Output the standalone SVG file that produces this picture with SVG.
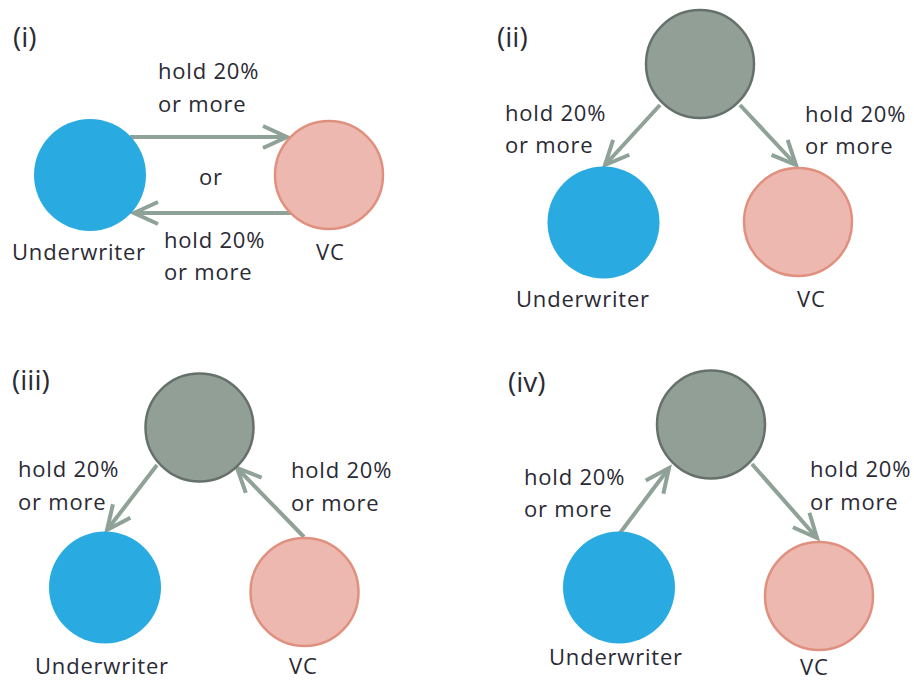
<svg xmlns="http://www.w3.org/2000/svg" width="914" height="680" viewBox="0 0 914 680">
<style>
.t{font-family:"Open Sans","Noto Sans",sans-serif;font-size:22px;fill:#2a2a35;letter-spacing:0.8px}
.p{font-family:"Open Sans","Noto Sans",sans-serif;font-size:28px;fill:#2a2a35}
.uw{fill:#29abe2}
.vc{fill:#edb8b0;stroke:#e0907f;stroke-width:2.5}
.gp{fill:#919f97;stroke:#66716b;stroke-width:2.5}
.c{stroke:#8fa297;stroke-width:4;fill:none;marker-end:url(#ah)}
</style>
<defs>
<marker id="ah" markerUnits="userSpaceOnUse" markerWidth="40" markerHeight="40" viewBox="-30 -20 40 40" refX="0" refY="0" orient="auto">
<path d="M-24,-11 L0,0 L-24,11" fill="none" stroke="#8fa297" stroke-width="4"/>
</marker>
</defs>
<g id="connectors">
<line class="c" x1="130" y1="137" x2="287" y2="137"/>
<line class="c" x1="291" y1="213" x2="134" y2="213"/>
<line class="c" x1="660" y1="105" x2="605" y2="165"/>
<line class="c" x1="740" y1="105" x2="796" y2="165"/>
<line class="c" x1="157" y1="465" x2="107" y2="530"/>
<line class="c" x1="304" y1="537" x2="237" y2="468"/>
<line class="c" x1="620" y1="533" x2="669" y2="468"/>
<line class="c" x1="752" y1="464" x2="817" y2="538"/>
</g>
<g id="panel-i">
<text class="p" x="13" y="47">(i)</text>
<g id="i-underwriter"><circle class="uw" cx="90" cy="175" r="56"/><text class="t" x="12" y="260">Underwriter</text></g>
<g id="i-vc"><circle class="vc" cx="329" cy="175" r="54"/><text class="t" x="316" y="260">VC</text></g>
<text class="t" x="158" y="79">hold 20%</text>
<text class="t" x="158" y="112">or more</text>
<text class="t" x="199" y="185">or</text>
<text class="t" x="164" y="248">hold 20%</text>
<text class="t" x="164" y="280">or more</text>
</g>
<g id="panel-ii">
<text class="p" x="497" y="47">(ii)</text>
<g id="ii-parent"><circle class="gp" cx="700" cy="64" r="54"/></g>
<g id="ii-underwriter"><circle class="uw" cx="603.5" cy="222.5" r="56"/><text class="t" x="516" y="307">Underwriter</text></g>
<g id="ii-vc"><circle class="vc" cx="798" cy="222" r="54"/><text class="t" x="797" y="307">VC</text></g>
<text class="t" x="505" y="121">hold 20%</text>
<text class="t" x="505" y="153">or more</text>
<text class="t" x="805" y="122">hold 20%</text>
<text class="t" x="805" y="154">or more</text>
</g>
<g id="panel-iii">
<text class="p" x="12" y="390">(iii)</text>
<g id="iii-parent"><circle class="gp" cx="199.5" cy="427.5" r="54"/></g>
<g id="iii-underwriter"><circle class="uw" cx="105" cy="587.5" r="56"/><text class="t" x="35" y="674">Underwriter</text></g>
<g id="iii-vc"><circle class="vc" cx="304.5" cy="592" r="54"/><text class="t" x="289" y="674">VC</text></g>
<text class="t" x="18" y="477">hold 20%</text>
<text class="t" x="18" y="510">or more</text>
<text class="t" x="291" y="478">hold 20%</text>
<text class="t" x="291" y="511">or more</text>
</g>
<g id="panel-iv">
<text class="p" x="508" y="392">(iv)</text>
<g id="iv-parent"><circle class="gp" cx="711" cy="424.5" r="54"/></g>
<g id="iv-underwriter"><circle class="uw" cx="619" cy="587.5" r="56"/><text class="t" x="549" y="665">Underwriter</text></g>
<g id="iv-vc"><circle class="vc" cx="819" cy="596" r="54"/><text class="t" x="800" y="675">VC</text></g>
<text class="t" x="524" y="485">hold 20%</text>
<text class="t" x="524" y="517">or more</text>
<text class="t" x="810" y="477">hold 20%</text>
<text class="t" x="810" y="510">or more</text>
</g>
</svg>
